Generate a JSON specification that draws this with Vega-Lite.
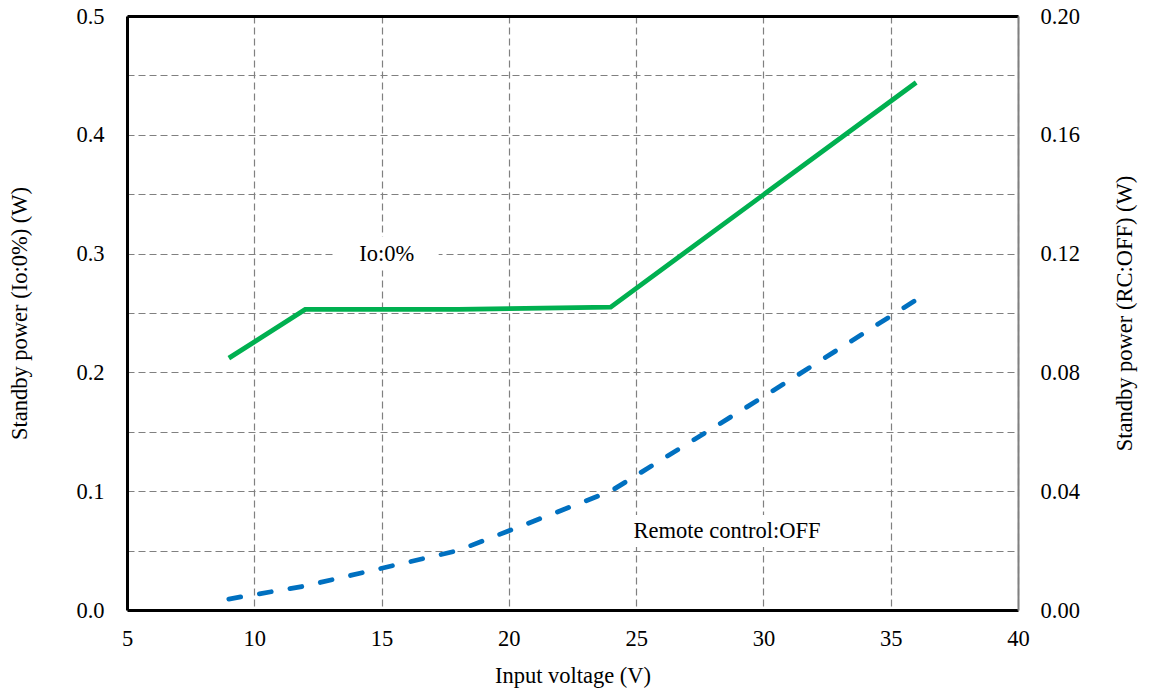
{
  "$schema": "https://vega.github.io/schema/vega-lite/v6.json",
  "width": 891,
  "height": 594,
  "autosize": "none",
  "padding": {"left": 127, "top": 16, "right": 131, "bottom": 83},
  "background": "white",
  "config": {
    "view": {"stroke": null},
    "font": "Liberation Serif",
    "axis": {
      "labelFont": "Liberation Serif",
      "titleFont": "Liberation Serif",
      "labelFontSize": 22.5,
      "titleFontSize": 22.5,
      "labelColor": "black",
      "titleColor": "black",
      "titleFontWeight": "normal",
      "labelFlush": false,
      "labelOverlap": false,
      "ticks": false,
      "gridColor": "#808080",
      "gridDash": [7, 4],
      "gridWidth": 1.2,
      "gridOpacity": 1
    }
  },
  "datasets": {
    "io": [
      {"V": 9, "P": 0.212},
      {"V": 12, "P": 0.253},
      {"V": 18, "P": 0.253},
      {"V": 24, "P": 0.255},
      {"V": 36, "P": 0.444}
    ],
    "rc": [
      {"V": 9, "P": 0.0037},
      {"V": 12, "P": 0.0081},
      {"V": 18, "P": 0.0200},
      {"V": 24, "P": 0.0400},
      {"V": 30, "P": 0.0718},
      {"V": 36, "P": 0.1044}
    ],
    "notes": [
      {"V": 15.2, "P": 0.3, "label": "Io:0%"},
      {"V": 28.57, "P": 0.0665, "label": "Remote control:OFF"}
    ]
  },
  "layer": [
    {
      "layer": [
        {
          "data": {"name": "io"},
          "mark": {"type": "line", "color": "#00B050", "strokeWidth": 4.8, "strokeCap": "butt", "strokeJoin": "miter"},
          "encoding": {
            "x": {
              "field": "V", "type": "quantitative",
              "scale": {"domain": [5, 40], "nice": false, "zero": false},
              "axis": {
                "orient": "bottom",
                "title": "Input voltage (V)",
                "values": [5, 10, 15, 20, 25, 30, 35, 40],
                "grid": true,
                "domainColor": "black",
                "domainWidth": 3,
                "labelPadding": 17,
                "titlePadding": 15
              }
            },
            "y": {
              "field": "P", "type": "quantitative",
              "scale": {"domain": [0, 0.5], "nice": false},
              "axis": {
                "orient": "left",
                "title": "Standby power (Io:0%) (W)",
                "values": [0, 0.05, 0.1, 0.15, 0.2, 0.25, 0.3, 0.35, 0.4, 0.45, 0.5],
                "labelExpr": "round(datum.value * 20) % 2 == 0 ? format(datum.value, '.1f') : ''",
                "grid": true,
                "domainColor": "black",
                "domainWidth": 3,
                "labelPadding": 23,
                "titlePadding": 44
              }
            }
          }
        },
        {
          "data": {"name": "notes"},
          "transform": [{"filter": "datum.label == 'Io:0%'"}],
          "mark": {"type": "rect", "fill": "white", "width": 104, "height": 34},
          "encoding": {
            "x": {"field": "V", "type": "quantitative"},
            "y": {"field": "P", "type": "quantitative"}
          }
        },
        {
          "data": {"name": "notes"},
          "transform": [{"filter": "datum.label != 'Io:0%'"}],
          "mark": {"type": "rect", "fill": "white", "width": 206, "height": 32},
          "encoding": {
            "x": {"field": "V", "type": "quantitative"},
            "y": {"field": "P", "type": "quantitative"}
          }
        },
        {
          "data": {"name": "notes"},
          "mark": {"type": "text", "font": "Liberation Serif", "fontSize": 22.5, "color": "black", "align": "center", "baseline": "middle"},
          "encoding": {
            "x": {"field": "V", "type": "quantitative"},
            "y": {"field": "P", "type": "quantitative"},
            "text": {"field": "label", "type": "nominal"}
          }
        }
      ]
    },
    {
      "data": {"name": "rc"},
      "mark": {"type": "line", "color": "#0070C0", "strokeWidth": 4.8, "strokeDash": [12, 19], "strokeCap": "round"},
      "encoding": {
        "x": {
          "field": "V", "type": "quantitative",
          "axis": {
            "orient": "top",
            "title": null,
            "labels": false,
            "grid": false,
            "domainColor": "black",
            "domainWidth": 3
          }
        },
        "y": {
          "field": "P", "type": "quantitative",
          "scale": {"domain": [0, 0.2], "nice": false},
          "axis": {
            "orient": "right",
            "title": "Standby power (RC:OFF) (W)",
            "titleAngle": 270,
            "values": [0, 0.04, 0.08, 0.12, 0.16, 0.2],
            "format": ".2f",
            "grid": false,
            "domainColor": "#808080",
            "domainWidth": 2,
            "labelPadding": 22,
            "titlePadding": 57
          }
        }
      }
    }
  ],
  "resolve": {"scale": {"y": "independent"}, "axis": {"x": "independent", "y": "independent"}}
}
